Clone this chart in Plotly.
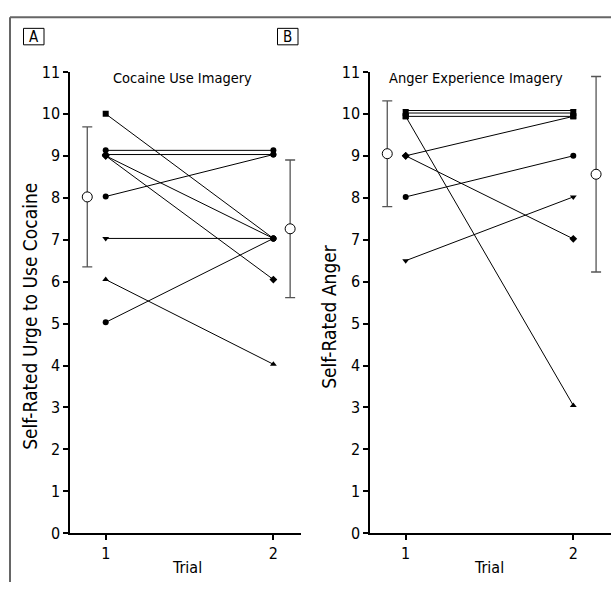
import plotly.graph_objects as go

# ---- data ----
trials = [1, 2]

# Panel A: Cocaine Use Imagery (per-subject values at trial 1 and trial 2)
cocaine_t1 = [10.0, 9.13, 9.03, 9.0, 9.0, 8.03, 7.03, 6.05, 5.03]
cocaine_t2 = [7.03, 9.13, 9.03, 6.05, 7.03, 9.03, 7.03, 4.03, 7.03]
cocaine_sym1 = ["square", "circle", "diamond", "diamond", "diamond", "circle", "triangle-down", "triangle-up", "circle"]
cocaine_sym2 = ["circle", "circle", "circle", "diamond", "circle", "circle", "circle", "triangle-up", "circle"]
cocaine_mean = [8.02, 7.26]
cocaine_sd = [1.67, 1.64]

# Panel B: Anger Experience Imagery
anger_t1 = [10.08, 10.02, 9.94, 9.94, 9.0, 9.0, 8.02, 6.5]
anger_t2 = [10.08, 10.02, 9.94, 3.05, 9.94, 7.02, 9.0, 8.02]
anger_sym1 = ["triangle-down", "square", "square", "square", "diamond", "diamond", "circle", "triangle-down"]
anger_sym2 = ["triangle-down", "square", "square", "triangle-up", "square", "diamond", "circle", "triangle-down"]
anger_mean = [9.05, 8.56]
anger_sd = [1.26, 2.33]

mean_x_offsets = [-0.11, 0.1]
mean_x_offsets_b = [-0.11, 0.136]

FONT = "Liberation Sans Narrow, DejaVu Sans Condensed, Arial Narrow, sans-serif"

fig = go.Figure()

def add_panel(t1, t2, s1, s2, mean, sd, xa, ya, offs):
    for a, b, m1, m2 in zip(t1, t2, s1, s2):
        fig.add_trace(go.Scatter(
            x=trials, y=[a, b], mode="lines+markers",
            line=dict(color="black", width=1),
            marker=dict(symbol=[m1, m2], size=6, color="black"),
            xaxis=xa, yaxis=ya, showlegend=False, hoverinfo="skip"))
    fig.add_trace(go.Scatter(
        x=[trials[0] + offs[0], trials[1] + offs[1]], y=mean, mode="markers",
        marker=dict(symbol="circle", size=10, color="white",
                    line=dict(color="black", width=1)),
        error_y=dict(type="data", array=sd, visible=True, color="#555555",
                     thickness=1.3, width=5),
        xaxis=xa, yaxis=ya, showlegend=False, hoverinfo="skip"))

add_panel(cocaine_t1, cocaine_t2, cocaine_sym1, cocaine_sym2, cocaine_mean, cocaine_sd, "x", "y", mean_x_offsets)
add_panel(anger_t1, anger_t2, anger_sym1, anger_sym2, anger_mean, anger_sd, "x2", "y2", mean_x_offsets_b)

W, H = 611, 592
ydom = [1 - 541.7 / H, 1 - 65 / H]

axis_common = dict(showline=True, linecolor="black", linewidth=1.5, ticks="outside",
                   ticklen=5, tickcolor="black", tickwidth=1.5, showgrid=False,
                   zeroline=False, tickfont=dict(family=FONT, size=16, color="black"))

fig.update_layout(
    width=W, height=H, margin=dict(l=0, r=0, t=0, b=0),
    paper_bgcolor="white", plot_bgcolor="white",
    font=dict(family=FONT, color="black"),
    xaxis=dict(domain=[70 / W, 300.7 / W], range=[0.787, 2.163], tickvals=trials,
               anchor="y", **axis_common),
    yaxis=dict(domain=ydom, range=[0, 11], tickvals=list(range(0, 12)), anchor="x",
               **axis_common),
    xaxis2=dict(domain=[370 / W, 1.0], range=[0.787, 2.225], tickvals=trials,
                anchor="y2", **axis_common),
    yaxis2=dict(domain=ydom, range=[0, 11], tickvals=list(range(0, 12)), anchor="x2",
                **axis_common),
)

def px(x):
    return x / W

def py(y):
    return 1 - y / H

ann = []
ann.append(dict(text="Cocaine Use Imagery", x=px(182), y=py(71), showarrow=False,
                font=dict(family=FONT, size=14.5)))
ann.append(dict(text="Anger Experience Imagery", x=px(476), y=py(71), showarrow=False,
                font=dict(family=FONT, size=14.5)))
ann.append(dict(text="Self-Rated Urge to Use Cocaine", x=px(30), y=py(318), textangle=-90,
                showarrow=False, font=dict(family=FONT, size=19)))
ann.append(dict(text="Self-Rated Anger", x=px(329), y=py(318), textangle=-90,
                showarrow=False, font=dict(family=FONT, size=19)))
ann.append(dict(text="Trial", x=px(187), y=py(577), showarrow=False,
                font=dict(family=FONT, size=16)))
ann.append(dict(text="Trial", x=px(489), y=py(577), showarrow=False,
                font=dict(family=FONT, size=16)))
ann.append(dict(text="A", x=px(33.5), y=py(28.5), showarrow=False,
                font=dict(family=FONT, size=15)))
ann.append(dict(text="B", x=px(287.5), y=py(28.5), showarrow=False,
                font=dict(family=FONT, size=15)))
for a in ann:
    a.update(xref="paper", yref="paper", xanchor="center", yanchor="middle")
fig.update_layout(annotations=ann)

shapes = [
    dict(type="line", x0=px(10), x1=1.0, y0=py(8.5), y1=py(8.5), line=dict(color="#666666", width=2)),
    dict(type="line", x0=px(10), x1=px(10), y0=py(8.5), y1=0, line=dict(color="#666666", width=2)),
    dict(type="rect", x0=px(23.5), x1=px(44), y0=py(20), y1=py(37), line=dict(color="black", width=1)),
    dict(type="rect", x0=px(277.5), x1=px(298), y0=py(20), y1=py(37), line=dict(color="black", width=1)),
]
for s in shapes:
    s.update(xref="paper", yref="paper")
fig.update_layout(shapes=shapes)

fig.write_html("out.html", config={"displayModeBar": False},
               post_script="document.body.style.margin='0';document.body.style.overflow='hidden';")
